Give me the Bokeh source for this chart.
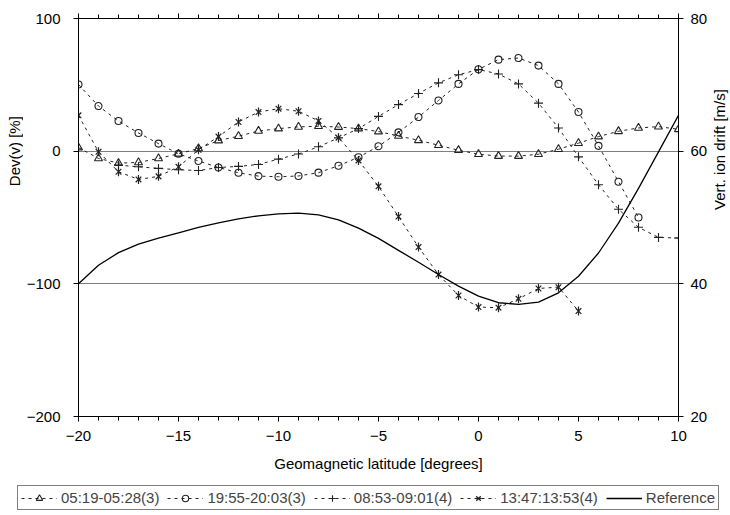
from math import pi
from bokeh.plotting import figure
from bokeh.layouts import column, row
from bokeh.models import (Range1d, LinearAxis, Legend, LegendItem, Label,
                          FixedTicker, CustomLabelingPolicy)
from bokeh.embed import file_html
from bokeh.resources import INLINE

# ---------------- data ----------------
lat_a = list(range(-20, 11))   # 05:19-05:28(3)
dev_a = [2.7, -5.5, -9, -8.5, -5.5, -2, 2, 8, 11.3, 15.2, 17, 18.3, 18.8, 18.2,
         17, 14.8, 11.5, 8.2, 4.5, 0.7, -2.3, -3.7, -3.7, -2.3, 1.5, 6, 11,
         15, 17.5, 18.5, 16.5]

lat_b = list(range(-20, 9))    # 19:55-20:03(3)
dev_b = [50.2, 34, 22.7, 13.7, 5.7, -2, -7.4, -12.3, -16.3, -18.8, -19.3,
         -18.7, -16.2, -11, -4.6, 3.7, 14.2, 25.7, 38.2, 50.7, 61.7, 69,
         70.2, 64.5, 50.7, 29.5, 4, -23, -50]

lat_c = list(range(-18, 11))   # 08:53-09:01(4)
dev_c = [-10.5, -11.8, -13, -14, -14.6, -12.3, -11.5, -10, -6, -2.1, 3.3,
         10, 17, 26.2, 35.1, 43.5, 51.5, 57.6, 61.5, 58.2, 50.7, 36.2, 17.5,
         -4.3, -25.3, -43.8, -57.4, -65, -65.5]

lat_d = list(range(-20, 6))    # 13:47:13:53(4)
dev_d = [27, -0.5, -15.5, -21.3, -19, -11.8, 1, 11, 22, 29.5, 32, 30.1,
         22.8, 10.2, -7, -26.5, -49.3, -72.3, -93, -108.8, -117.5, -118,
         -111.3, -103.5, -102.5, -120.5]

lat_ref = list(range(-20, 11))  # Reference, vertical ion drift [m/s]
drift_ref = [40, 42.8, 44.7, 46.0, 46.9, 47.7, 48.5, 49.2, 49.8, 50.25, 50.55,
             50.65, 50.4, 49.65, 48.4, 46.85, 45.05, 43.25, 41.4, 39.65,
             38.15, 37.15, 36.9, 37.25, 38.65, 41.15, 44.65, 49.15, 54.4,
             59.9, 65.4]

labels = ["05:19-05:28(3)", "19:55-20:03(3)", "08:53-09:01(4)",
          "13:47:13:53(4)", "Reference"]
x_major = [-20, -15, -10, -5, 0, 5, 10]
y_left_ticks = [-200, -100, 0, 100]
y_right_ticks = [20, 40, 60, 80]
x_title = "Geomagnetic latitude [degrees]"
y_left_title = "Dev(v) [%]"
y_right_title = "Vert. ion drift [m/s]"

FONT = "Liberation Sans"
INK = "#222222"
DASH = "3 4"
LEFT_STRIP = 23
RIGHT_STRIP = 20

# ---------------- main figure ----------------
p = figure(width=730 - LEFT_STRIP - RIGHT_STRIP, height=480,
           output_backend="svg", toolbar_location=None,
           x_range=Range1d(-20, 10), y_range=Range1d(-200, 100),
           min_border_left=78 - LEFT_STRIP, min_border_right=30,
           min_border_top=16, min_border_bottom=64)
p.extra_y_ranges = {"drift": Range1d(20, 80)}
p.outline_line_color = "black"
p.outline_line_width = 1

xt = FixedTicker(ticks=x_major, minor_ticks=list(range(-20, 11)))

def style_axis(ax):
    ax.axis_line_color = "black"
    ax.major_tick_line_color = "black"
    ax.minor_tick_line_color = "black"
    ax.major_label_text_font = FONT
    ax.major_label_text_font_size = "15px"
    ax.major_label_text_color = "black"
    ax.axis_label_standoff = 0

p.xaxis.ticker = xt
style_axis(p.xaxis[0])
p.xaxis.major_tick_in = 0
p.xaxis.major_tick_out = 5
p.xaxis.minor_tick_in = 0
p.xaxis.minor_tick_out = 4
p.xaxis.major_label_standoff = 9
p.xaxis.axis_label = x_title
p.xaxis.axis_label_text_font = FONT
p.xaxis.axis_label_text_font_size = "15px"
p.xaxis.axis_label_text_font_style = "normal"
p.xaxis.axis_label_text_color = "black"
p.xaxis.axis_label_standoff = 11

p.yaxis.ticker = FixedTicker(ticks=y_left_ticks, minor_ticks=[])
style_axis(p.yaxis[0])
p.yaxis.major_tick_in = 0
p.yaxis.major_tick_out = 5
p.yaxis.major_label_standoff = 13

top = LinearAxis(ticker=xt)
style_axis(top)
top.major_tick_in = 0
top.major_tick_out = 5
top.minor_tick_in = 0
top.minor_tick_out = 4
top.major_label_standoff = 0
top.major_label_policy = CustomLabelingPolicy(
    code="for (const i of Array.from(indices)) { indices.unset(i) }\nreturn indices")
p.add_layout(top, "above")

right = LinearAxis(y_range_name="drift",
                   ticker=FixedTicker(ticks=y_right_ticks, minor_ticks=[]))
style_axis(right)
right.major_tick_in = 0
right.major_tick_out = 5
right.major_label_standoff = 7
p.add_layout(right, "right")

p.xgrid.visible = False
p.ygrid.grid_line_color = "#7f7f7f"
p.ygrid.grid_line_width = 1

def draw_series(fig, xs, ys, mk):
    rs = [fig.line(xs, ys, line_color=INK, line_width=1, line_dash=DASH)]
    if mk == "star":
        rs.append(fig.scatter(xs, ys, marker="x", size=8, line_color=INK,
                              line_width=1.2))
        rs.append(fig.scatter(xs, ys, marker="dash", size=9, angle=pi / 2,
                              line_color=INK, line_width=1.2))
    else:
        sz = {"triangle": 8, "circle": 7, "cross": 9}[mk]
        rs.append(fig.scatter(xs, ys, marker=mk, size=sz, fill_color=None,
                              line_color=INK, line_width=1.1))
    return rs

series = [(lat_a, dev_a, "triangle"), (lat_b, dev_b, "circle"),
          (lat_c, dev_c, "cross"), (lat_d, dev_d, "star")]
for xs, ys, mk in series:
    draw_series(p, xs, ys, mk)
p.line(lat_ref, drift_ref, y_range_name="drift", line_color="black",
       line_width=1.3)

# ---------------- side strips with axis titles ----------------
def strip(w, h):
    s = figure(width=w, height=h, output_backend="svg", toolbar_location=None,
               x_range=Range1d(0, w), y_range=Range1d(0, h),
               x_axis_type=None, y_axis_type=None, min_border=0)
    s.outline_line_color = None
    s.grid.visible = False
    return s

TITLE_ANGLE = pi / 2   # counter-clockwise: reads bottom-to-top
left_strip = strip(LEFT_STRIP, 480)
left_strip.add_layout(Label(x=14, y=320, text=y_left_title,
                            angle=TITLE_ANGLE, text_align="center",
                            text_baseline="middle", text_font=FONT,
                            text_font_size="15px", text_color="black"))
right_strip = strip(RIGHT_STRIP, 480)
right_strip.add_layout(Label(x=9, y=322, text=y_right_title,
                             angle=TITLE_ANGLE, text_align="center",
                             text_baseline="middle", text_font=FONT,
                             text_font_size="15px", text_color="black"))

# ---------------- legend strip (legend glyph proxies kept off-view) -----
bottom = strip(730, 35)
OFF_X = [-1000, -999]
OFF_Y = [-1000, -1000]
items = []
for (xs, ys, mk), lab in zip(series, labels[:4]):
    rs = draw_series(bottom, OFF_X, OFF_Y, mk)
    items.append(LegendItem(label=lab, renderers=rs))
rr = bottom.line(OFF_X, OFF_Y, line_color="black", line_width=1.3)
items.append(LegendItem(label=labels[4], renderers=[rr]))
legend = Legend(items=items, orientation="horizontal", location=(17, 5),
                label_text_font=FONT, label_text_font_size="15px",
                glyph_width=36, glyph_height=16, label_standoff=4,
                spacing=8, padding=3, margin=0, label_height=16,
                border_line_color="black", border_line_width=1,
                background_fill_color="white", background_fill_alpha=1)
bottom.add_layout(legend)

layout = column(row(left_strip, p, right_strip), bottom)
open("out.html", "w").write(file_html(layout, INLINE))
